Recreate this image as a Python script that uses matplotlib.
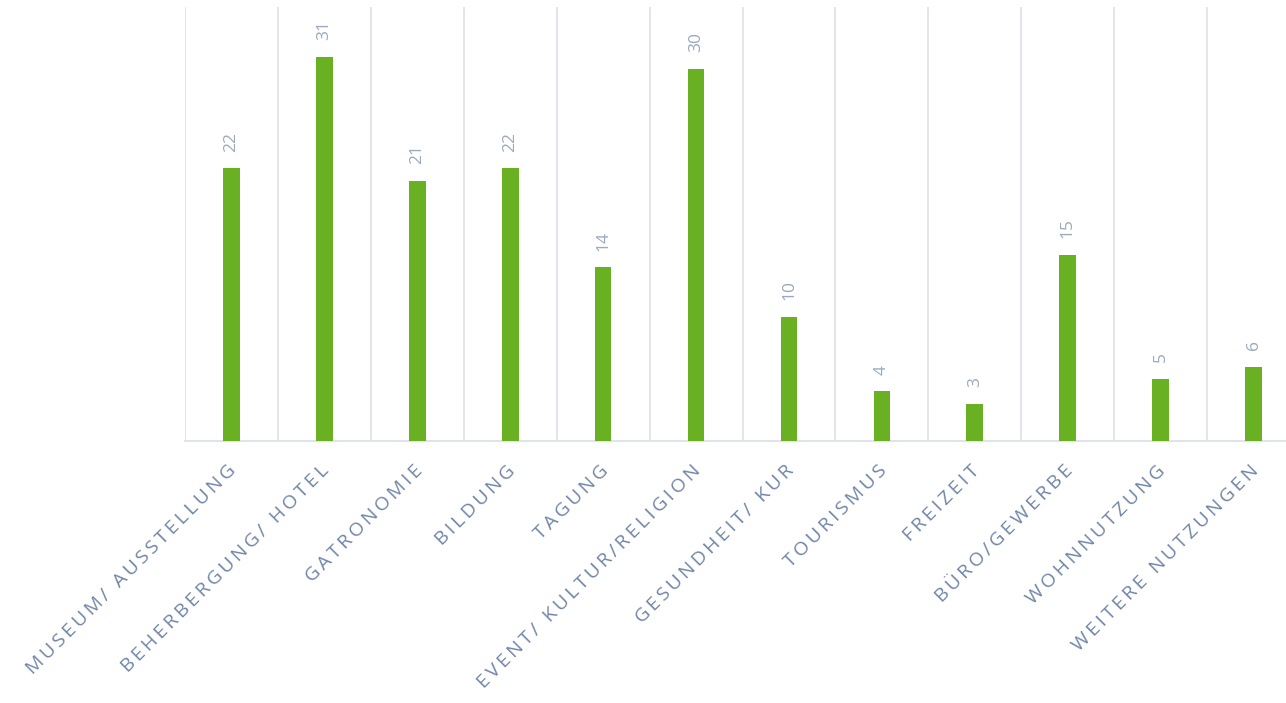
import matplotlib.pyplot as plt
from matplotlib.transforms import ScaledTranslation

categories = ['MUSEUM/ AUSSTELLUNG', 'BEHERBERGUNG/ HOTEL', 'GATRONOMIE', 'BILDUNG',
              'TAGUNG', 'EVENT/ KULTUR/RELIGION', 'GESUNDHEIT/ KUR', 'TOURISMUS',
              'FREIZEIT', 'BÜRO/GEWERBE', 'WOHNNUTZUNG', 'WEITERE NUTZUNGEN']
values = [22, 31, 21, 22, 14, 30, 10, 4, 3, 15, 5, 6]

bar_color = '#6ab023'
grid_color = '#dfe3ea'
label_color = '#7186a6'
value_color = '#9aa9be'


def spaced(s):
    # fake letter spacing with thin spaces
    return '\u2009'.join(s)


fig = plt.figure(figsize=(12.86, 7.03), dpi=100)
ax = fig.add_axes([185 / 1286, 1 - 441 / 703, 1115 / 1286, 434 / 703])

x = range(len(categories))
ax.bar(x, values, width=0.18, color=bar_color, zorder=3)

ax.set_xlim(-0.5, len(categories) - 0.5)
ax.set_ylim(0, 35)

for b in [i - 0.5 for i in range(len(categories) + 1)]:
    ax.axvline(b, color=grid_color, lw=1.3, zorder=1)

for s in ['top', 'right', 'left']:
    ax.spines[s].set_visible(False)
ax.spines['bottom'].set_color(grid_color)
ax.spines['bottom'].set_linewidth(1.5)
ax.set_yticks([])
ax.set_xticks(list(x))
ax.set_xticklabels([spaced(c) for c in categories], rotation=45, ha='right', va='top',
                   rotation_mode='anchor', color=label_color, fontsize=14,
                   family=['Open Sans', 'DejaVu Sans'])
ax.tick_params(axis='x', length=0, pad=15)
for lbl in ax.get_xticklabels():
    lbl.set_transform(lbl.get_transform() + ScaledTranslation(-3 / 72, 0, fig.dpi_scale_trans))

for i, v in zip(x, values):
    ax.annotate(str(v), (i, v), xytext=(0, 12), textcoords='offset points',
                rotation=90, ha='center', va='bottom', color=value_color,
                fontsize=12.5, family=['Open Sans', 'DejaVu Sans'])

fig.savefig('out.png', dpi=100)
